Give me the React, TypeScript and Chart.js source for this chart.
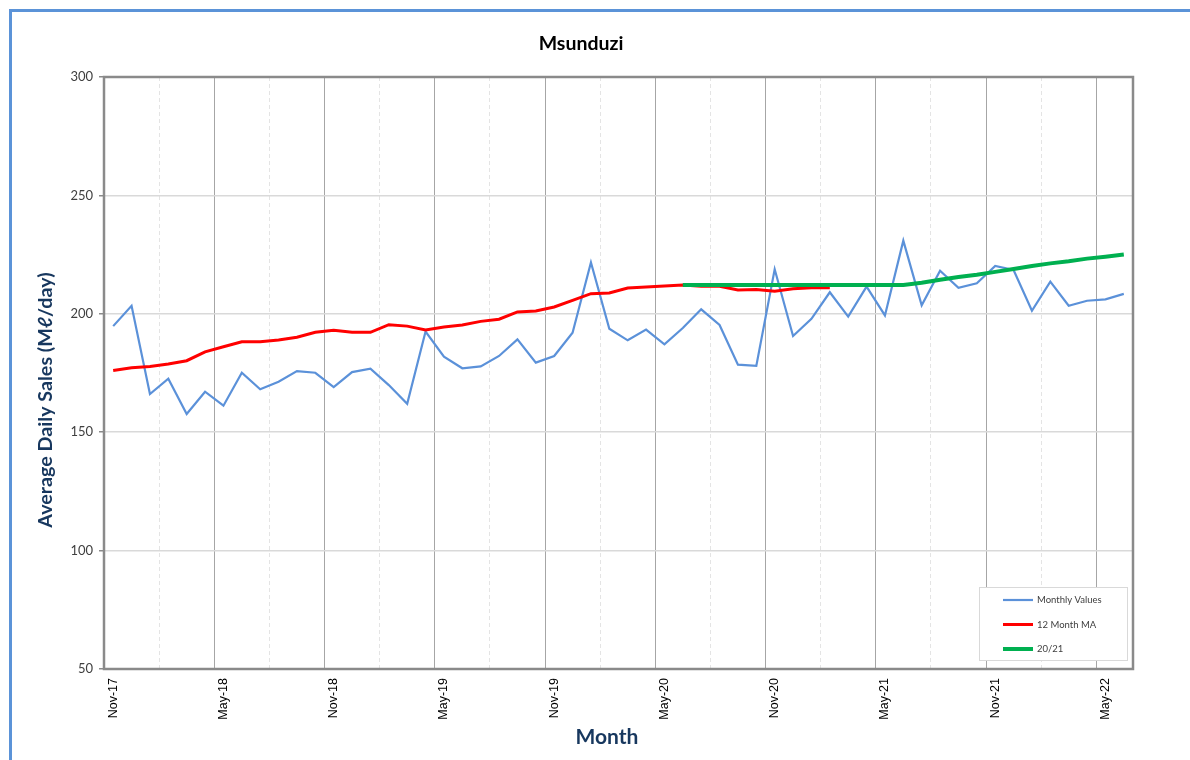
import React, { useEffect, useRef } from 'react';
import { Chart, registerables } from 'chart.js';

Chart.register(...registerables);

const months = [
  'Nov-17', 'Dec-17', 'Jan-18', 'Feb-18', 'Mar-18', 'Apr-18', 'May-18', 'Jun-18', 'Jul-18', 'Aug-18', 'Sep-18', 'Oct-18',
  'Nov-18', 'Dec-18', 'Jan-19', 'Feb-19', 'Mar-19', 'Apr-19', 'May-19', 'Jun-19', 'Jul-19', 'Aug-19', 'Sep-19', 'Oct-19',
  'Nov-19', 'Dec-19', 'Jan-20', 'Feb-20', 'Mar-20', 'Apr-20', 'May-20', 'Jun-20', 'Jul-20', 'Aug-20', 'Sep-20', 'Oct-20',
  'Nov-20', 'Dec-20', 'Jan-21', 'Feb-21', 'Mar-21', 'Apr-21', 'May-21', 'Jun-21', 'Jul-21', 'Aug-21', 'Sep-21', 'Oct-21',
  'Nov-21', 'Dec-21', 'Jan-22', 'Feb-22', 'Mar-22', 'Apr-22', 'May-22', 'Jun-22',
];

const monthlyValues = [
  194.8, 203.4, 166.1, 172.6, 157.7, 167.1, 161.2, 175.1, 168.1, 171.3, 175.8, 175.1,
  169.0, 175.4, 176.8, 169.9, 162.0, 192.5, 181.9, 177.0, 177.8, 182.2, 189.2, 179.4,
  182.2, 192.0, 221.7, 193.7, 188.8, 193.3, 187.1, 194.0, 201.9, 195.3, 178.5, 178.0,
  218.8, 190.6, 197.9, 209.1, 198.8, 211.5, 199.3, 230.9, 203.6, 218.2, 211.0, 212.9,
  220.2, 218.5, 201.3, 213.6, 203.4, 205.5, 206.1, 208.4,
];

const movingAverage = [
  176.1, 177.2, 177.7, 178.8, 180.2, 183.9, 186.1, 188.2, 188.2, 188.9, 190.1, 192.2,
  193.0, 192.2, 192.2, 195.4, 194.8, 193.2, 194.4, 195.3, 196.8, 197.7, 200.8, 201.2,
  202.9, 205.7, 208.5, 208.8, 210.9, 211.3, 211.7, 212.2, 211.6, 211.6, 210.1, 210.3,
  209.5, 210.6, 211.0, 211.0, null, null, null, null, null, null, null, null,
  null, null, null, null, null, null, null, null,
];

const target2021 = [
  null, null, null, null, null, null, null, null, null, null, null, null,
  null, null, null, null, null, null, null, null, null, null, null, null,
  null, null, null, null, null, null, null, 212.2, 212.2, 212.2, 212.2, 212.2,
  212.2, 212.2, 212.2, 212.2, 212.2, 212.2, 212.2, 212.2, 213.1, 214.4, 215.5, 216.5,
  217.7, 218.9, 220.2, 221.3, 222.2, 223.3, 224.1, 225.0,
];

const yTicks = [50, 100, 150, 200, 250, 300];
const seriesNames = ['Monthly Values', '12 Month MA', '20/21'];
const chartTitle = 'Msunduzi';
const yTitle = 'Average Daily Sales (Mℓ/day)';
const xTitle = 'Month';

const NAVY = '#17375e';
const TITLE_FONT = 'Lato, "Open Sans", sans-serif';

const decorPlugin = {
  id: 'decor',
  beforeDraw(chart: any) {
    const { ctx, width, height } = chart;
    ctx.save();
    ctx.fillStyle = '#ffffff';
    ctx.fillRect(0, 0, width, height);
    ctx.fillStyle = '#5b93d8';
    ctx.fillRect(9, 9, 3, height);
    ctx.fillRect(9, 9, width, 3);
    ctx.restore();
  },
  beforeDatasetsDraw(chart: any) {
    const { ctx, chartArea: a } = chart;
    ctx.save();
    ctx.strokeStyle = '#8a8a8a';
    ctx.lineWidth = 2.5;
    ctx.strokeRect(a.left, a.top, a.right - a.left, a.bottom - a.top);
    ctx.restore();
  },
  afterDraw(chart: any) {
    const { ctx, chartArea: a } = chart;
    ctx.save();
    ctx.fillStyle = '#000000';
    ctx.font = `bold 19.5px ${TITLE_FONT}`;
    ctx.textAlign = 'center';
    ctx.textBaseline = 'middle';
    ctx.fillText(chartTitle, 581, 44);
    ctx.fillStyle = NAVY;
    ctx.font = `bold 21px ${TITLE_FONT}`;
    ctx.fillText(xTitle, 607, 737);
    ctx.save();
    ctx.translate(46, 400);
    ctx.rotate(-Math.PI / 2);
    ctx.font = `bold 19.7px ${TITLE_FONT}`;
    ctx.fillText(yTitle, 0, 0);
    ctx.restore();

    const lx = a.right - 154;
    const ly = a.bottom - 82;
    const lw = 148;
    const lh = 73;
    ctx.fillStyle = '#ffffff';
    ctx.fillRect(lx, ly, lw, lh);
    ctx.strokeStyle = '#d9d9d9';
    ctx.lineWidth = 1;
    ctx.strokeRect(lx + 0.5, ly + 0.5, lw, lh);
    ctx.textAlign = 'left';
    ctx.textBaseline = 'middle';
    ctx.font = `9.5px ${TITLE_FONT}`;
    chart.data.datasets.forEach((ds: any, i: number) => {
      const yy = ly + 13 + i * 24.5;
      ctx.strokeStyle = ds.borderColor;
      ctx.lineWidth = ds.borderWidth;
      ctx.beginPath();
      ctx.moveTo(lx + 24, yy);
      ctx.lineTo(lx + 54, yy);
      ctx.stroke();
      ctx.fillStyle = '#404040';
      ctx.fillText(seriesNames[i], lx + 58, yy);
    });
    ctx.restore();
  },
};

export default function App() {
  const canvasRef = useRef<HTMLCanvasElement | null>(null);

  useEffect(() => {
    document.body.style.margin = '0';
    const canvas = canvasRef.current;
    if (!canvas) return;
    const chart = new Chart(canvas, {
      type: 'line',
      data: {
        labels: months,
        datasets: [
          {
            label: seriesNames[0],
            data: monthlyValues,
            borderColor: '#5b91d9',
            borderWidth: 2.2,
            pointRadius: 0,
            tension: 0,
            order: 2,
          },
          {
            label: seriesNames[1],
            data: movingAverage,
            borderColor: '#ff0000',
            borderWidth: 3,
            pointRadius: 0,
            tension: 0,
            order: 1,
          },
          {
            label: seriesNames[2],
            data: target2021,
            borderColor: '#00b050',
            borderWidth: 4,
            pointRadius: 0,
            tension: 0,
            order: 0,
          },
        ],
      },
      plugins: [decorPlugin],
      options: {
        responsive: true,
        maintainAspectRatio: false,
        animation: false,
        layout: { padding: { left: 0, right: 57, top: 77, bottom: 0 } },
        plugins: {
          legend: { display: false },
          title: { display: false },
          tooltip: { enabled: false },
        },
        scales: {
          x: {
            type: 'category',
            offset: true,
            afterFit: (scale: any) => {
              scale.height = 91;
            },
            grid: {
              offset: true,
              drawTicks: false,
              lineWidth: 1,
              color: (c: any) =>
                c.index % 6 === 0 ? '#a6a6a6' : c.index % 3 === 0 ? '#e4e4e4' : 'rgba(0,0,0,0)',
            },
            border: {
              display: false,
              dash: (c: any) => (c.index % 6 !== 0 && c.index % 3 === 0 ? [4, 3] : []),
            },
            ticks: {
              autoSkip: false,
              minRotation: 90,
              maxRotation: 90,
              padding: 9,
              color: '#000000',
              font: { family: '"Liberation Sans", Arial, sans-serif', size: 12.5 },
              callback: (_v: any, idx: number) => (idx % 6 === 0 ? months[idx] : ''),
            },
          },
          y: {
            min: yTicks[0],
            max: yTicks[yTicks.length - 1],
            afterFit: (scale: any) => {
              scale.width = 104;
            },
            afterBuildTicks: (scale: any) => {
              scale.ticks = yTicks.map((v) => ({ value: v }));
            },
            grid: {
              color: '#d9d9d9',
              lineWidth: 1.5,
              tickLength: 5,
              tickColor: '#8a8a8a',
            },
            border: { display: false },
            ticks: {
              padding: 6,
              color: '#404040',
              font: { family: TITLE_FONT, size: 13 },
            },
          },
        },
      },
    } as any);
    return () => chart.destroy();
  }, []);

  return (
    <div style={{ position: 'relative', width: 1190, height: 760 }}>
      <canvas ref={canvasRef} />
    </div>
  );
}
